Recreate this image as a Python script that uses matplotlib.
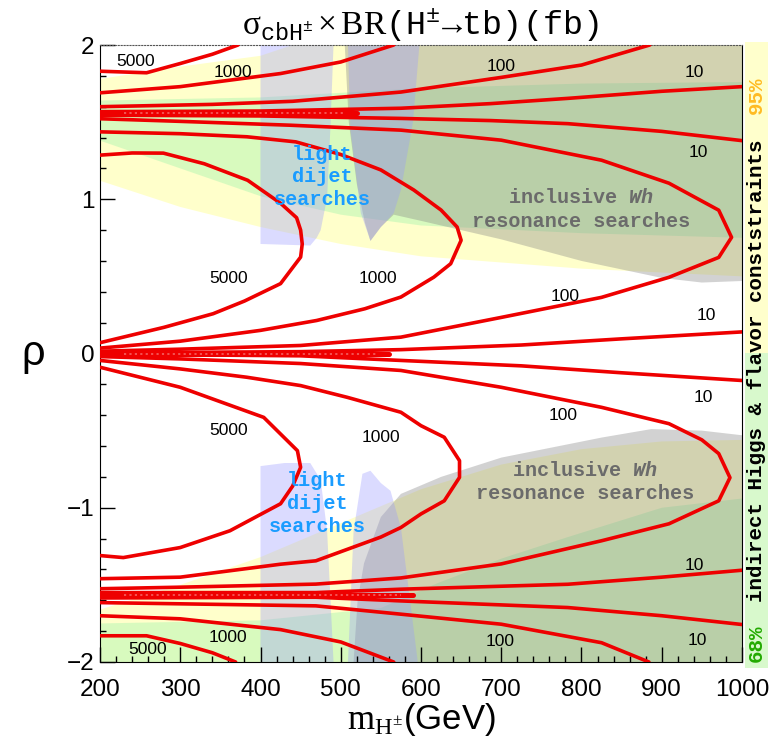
import numpy as np
import matplotlib.pyplot as plt

plt.rcParams['font.family'] = ['Liberation Sans', 'DejaVu Sans']
plt.rcParams['mathtext.fontset'] = 'custom'
plt.rcParams['mathtext.rm'] = 'Liberation Serif'
plt.rcParams['mathtext.tt'] = 'Liberation Mono'
plt.rcParams['mathtext.it'] = 'Liberation Mono:italic:bold'
plt.rcParams['mathtext.bf'] = 'Liberation Mono:bold'

# ---- contour lines of sigma x BR (fb) as (m_H, rho) ----
top_5000 = [(200, 1.83), (258, 1.82), (300, 1.88), (340, 1.94), (372, 2.0)]
top_1000 = [(200, 1.69), (300, 1.73), (425, 1.815), (500, 1.89), (566, 2.0)]
top_100 = [(200, 1.60), (340, 1.615), (440, 1.635), (575, 1.695), (700, 1.79), (800, 1.87), (885, 2.0)]
top_10 = [(200, 1.568), (400, 1.572), (575, 1.59), (687, 1.62), (783, 1.654), (900, 1.70), (1000, 1.73)]
top_10b = [(200, 1.545), (400, 1.54), (575, 1.524), (687, 1.51), (783, 1.49), (900, 1.44), (1000, 1.38)]

loop_100_up = [(200, 1.522), (300, 1.505), (437, 1.48), (575, 1.448), (700, 1.383), (825, 1.253),
               (909, 1.104), (971, 0.929), (987, 0.753), (971, 0.623), (909, 0.494), (825, 0.364),
               (700, 0.234), (575, 0.106), (450, 0.052), (300, 0.028), (200, 0.015)]
loop_1000_up = [(200, 1.437), (300, 1.425), (383, 1.405), (444, 1.372), (500, 1.29), (550, 1.19),
                (591, 1.06), (625, 0.93), (645, 0.82), (650, 0.734), (637, 0.582), (616, 0.495),
                (575, 0.366), (530, 0.29), (470, 0.214), (400, 0.15), (300, 0.08), (200, 0.035)]
loop_5000_up = [(200, 1.286), (240, 1.30), (279, 1.299), (330, 1.23), (384, 1.123), (425, 0.974),
                (445, 0.88), (450, 0.80), (452, 0.71), (450, 0.625), (425, 0.453), (380, 0.34),
                (341, 0.258), (280, 0.17), (200, 0.07)]

zero_10_up = [(200, 0.004), (450, 0.012), (575, 0.025), (725, 0.055), (850, 0.095), (1000, 0.14)]
zero_10_dn = [(200, -0.004), (450, -0.015), (575, -0.045), (725, -0.08), (850, -0.125), (1000, -0.175)]

loop_100_dn = [(200, -0.02), (300, -0.035), (450, -0.065), (575, -0.11), (700, -0.219), (825, -0.349),
               (909, -0.455), (950, -0.56), (971, -0.649), (985, -0.805), (971, -0.955), (909, -1.104),
               (825, -1.214), (700, -1.364), (575, -1.455), (469, -1.495), (300, -1.515), (200, -1.525)]
loop_1000_dn = [(200, -0.045), (300, -0.1), (383, -0.154), (450, -0.208), (508, -0.284), (575, -0.381),
                (600, -0.468), (629, -0.543), (648, -0.695), (648, -0.803), (629, -0.955), (600, -1.04),
                (575, -1.128), (550, -1.19), (469, -1.344), (425, -1.366), (300, -1.45), (200, -1.46)]
loop_5000_dn = [(200, -0.089), (300, -0.219), (404, -0.414), (446, -0.63), (450, -0.738), (440, -0.86),
                (425, -0.974), (362, -1.149), (300, -1.258), (229, -1.323), (200, -1.31)]

bot_10a = [(200, -1.55), (469, -1.55), (575, -1.528), (783, -1.496), (900, -1.45), (1000, -1.405)]
bot_10b = [(200, -1.585), (469, -1.58), (575, -1.604), (783, -1.647), (900, -1.70), (1000, -1.757)]
bot_100 = [(200, -1.615), (469, -1.636), (575, -1.69), (700, -1.755), (825, -1.875), (884, -2.0)]
bot_1000 = [(200, -1.70), (300, -1.72), (425, -1.79), (500, -1.87), (566, -2.0)]
bot_5000 = [(200, -1.83), (258, -1.83), (300, -1.88), (340, -1.94), (369, -2.0)]

# dense bundles where the rate goes to zero
zero_rho = [1.556, 0.0, -1.568]
zero_mend = [520, 560, 590]

# contour labels
lab_text = ['5000', '1000', '100', '10', '10', '5000', '1000', '100', '10',
            '10', '100', '5000', '1000', '10', '1000', '5000', '100', '10']
lab_m = [244, 366, 700, 941, 945, 360, 546, 779, 956,
         952, 777, 360, 550, 941, 359, 259, 698, 944]
lab_rho = [1.89, 1.82, 1.86, 1.82, 1.305, 0.487, 0.487, 0.37, 0.247,
           -0.286, -0.40, -0.50, -0.545, -1.377, -1.844, -1.92, -1.87, -1.86]

# ---- shaded regions ----
yel_up_top = [(200, 1.78), (300, 1.86), (400, 1.93), (440, 2.0), (1000, 2.0)]
yel_up_bot = [(200, 1.12), (300, 0.95), (400, 0.82), (500, 0.71), (600, 0.63), (800, 0.55), (1000, 0.5)]
grn_up_top = [(200, 1.64), (400, 1.66), (600, 1.72), (800, 1.75), (1000, 1.76)]
grn_up_bot = [(200, 1.38), (300, 1.2), (400, 1.02), (500, 0.9), (600, 0.83), (800, 0.78), (1000, 0.75)]
yel_dn_top = [(200, -1.66), (300, -1.5), (400, -1.32), (500, -1.1), (600, -0.88), (700, -0.72),
              (800, -0.62), (900, -0.57), (1000, -0.56)]
grn_dn_top = [(200, -1.75), (400, -1.73), (550, -1.65), (620, -1.49), (700, -1.33), (783, -1.19),
              (900, -1.0), (1000, -0.94)]

wh_up_bot = [(505, 2.0), (510, 1.5), (520, 1.1), (530, 0.85), (537, 0.73), (550, 0.82), (566, 0.90),
             (600, 0.86), (700, 0.74), (800, 0.60), (900, 0.49), (950, 0.46), (1000, 0.47)]
wh_dn_top = [(516, -2.0), (521, -1.6), (529, -1.36), (550, -1.06), (575, -0.91), (625, -0.8),
             (700, -0.675), (825, -0.545), (887, -0.49), (950, -0.5), (1000, -0.53)]

dij1_up = [(400, 2.0), (400, 0.71), (462, 0.70), (470, 0.75), (475, 0.8), (483, 1.01), (487, 1.45), (491, 2.0)]
dij2_up = [(509, 2.0), (512, 1.45), (525, 0.91), (537, 0.73), (550, 0.82), (566, 0.91), (575, 1.06),
           (590, 1.5), (598, 2.0)]
dij1_dn = [(400, -2.0), (400, -0.73), (430, -0.71), (462, -0.71), (475, -0.82), (483, -1.15), (491, -2.0)]
dij2_dn = [(509, -2.0), (516, -1.15), (527, -0.78), (537, -0.76), (550, -0.84), (562, -0.89),
           (575, -1.13), (596, -2.0)]


def xy(pts):
    a = np.array(pts, dtype=float)
    return a[:, 0], a[:, 1]


def band(top, bot):
    t = np.array(top, dtype=float)
    b = np.array(bot, dtype=float)[::-1]
    a = np.vstack([t, b])
    return a[:, 0], a[:, 1]


fig = plt.figure(figsize=(7.79, 7.43), dpi=100)
ax = fig.add_axes([100 / 779, 81 / 743, 642 / 779, 617 / 743])

# 95% / 68% indirect constraints
x, y = band(yel_up_top, yel_up_bot)
ax.fill(x, y, color='#ffff99', alpha=0.5, lw=0, zorder=1)
x, y = band(grn_up_top, grn_up_bot)
ax.fill(x, y, color='#66ee99', alpha=0.25, lw=0, zorder=1.1)
x, y = band(yel_dn_top, [(200, -2.0), (1000, -2.0)])
ax.fill(x, y, color='#ffff99', alpha=0.5, lw=0, zorder=1)
x, y = band(grn_dn_top, [(200, -2.0), (1000, -2.0)])
ax.fill(x, y, color='#66ee99', alpha=0.25, lw=0, zorder=1.1)

# inclusive Wh resonance searches
x, y = band([(1000, 2.0)], wh_up_bot[::-1])
ax.fill(x, y, color='#808080', alpha=0.35, lw=0, zorder=1.2)
x, y = band(wh_dn_top, [(516, -2.0), (1000, -2.0)])
ax.fill(x, y, color='#808080', alpha=0.35, lw=0, zorder=1.2)

# light dijet searches
for reg in [dij1_up, dij2_up, dij1_dn, dij2_dn]:
    x, y = xy(reg)
    ax.fill(x, y, color='#9999ff', alpha=0.35, lw=0, zorder=1.3)

# contour lines
red = '#ee0000'
for line in [top_5000, top_1000, top_100, top_10, top_10b,
             loop_100_up, loop_1000_up, loop_5000_up, zero_10_up, zero_10_dn,
             loop_100_dn, loop_1000_dn, loop_5000_dn,
             bot_10a, bot_10b, bot_100, bot_1000, bot_5000]:
    x, y = xy(line)
    ax.plot(x, y, color=red, lw=2.6, solid_capstyle='round', zorder=3)

# bundles of many close contours near the zeros
for r0, m1 in zip(zero_rho, zero_mend):
    ax.plot([200, m1], [r0, r0], color=red, lw=3.6, solid_capstyle='round', zorder=3)
    ax.plot([230, m1 - 15], [r0, r0], color='white', lw=1.3, ls=(0, (1.2, 1.8)),
            alpha=0.35, zorder=3.1)

for t, m, r in zip(lab_text, lab_m, lab_rho):
    ax.text(m, r, t, fontsize=12.5, ha='center', va='center', zorder=4)

# region labels
dij_kw = dict(fontsize=14.5, fontfamily='Liberation Mono', fontweight='bold', color='#1a9cff',
              ha='center', va='center', linespacing=1.25, zorder=4)
ax.text(477, 1.145, 'light\ndijet\nsearches', **dij_kw)
ax.text(471, -0.972, 'light\ndijet\nsearches', **dij_kw)
wh_kw = dict(fontsize=14.5, fontfamily='Liberation Mono', fontweight='bold', color='#6b6b6b',
             ha='center', va='center', linespacing=1.3, zorder=4)
ax.text(799, 0.935, 'inclusive $\\mathit{Wh}$\nresonance searches', **wh_kw)
ax.text(804, -0.834, 'inclusive $\\mathit{Wh}$\nresonance searches', **wh_kw)

ax.set_xlim(200, 1000)
ax.set_ylim(-2, 2)
ax.set_xticks([200, 300, 400, 500, 600, 700, 800, 900, 1000])
ax.set_xticks(np.arange(200, 1001, 20), minor=True)
ax.set_yticks([-2, -1, 0, 1, 2])
ax.set_yticklabels(['\u22122', '\u22121', '0', '1', '2'])
ax.set_yticks(np.arange(-2, 2.01, 0.2), minor=True)
ax.tick_params(which='both', direction='in', top=False, right=False, labelsize=17.5, width=1)
ax.tick_params(which='major', length=11)
ax.tick_params(which='minor', length=4)
ax.tick_params(axis='x', pad=12)
ax.tick_params(axis='y', pad=4)
ax.spines['top'].set_linestyle(':')
ax.spines['top'].set_linewidth(0.8)
ax.spines['top'].set_color('#555555')

ax.set_xlabel(r'$\mathrm{m}_{\mathrm{H}^{\pm}}$(GeV)', fontsize=25, labelpad=0)
ax.set_ylabel('\u03c1', fontsize=30, rotation=0, labelpad=24, va='center')

fig.text(0.54, 0.966, r'$\mathrm{σ}_{\mathtt{cbH^{\pm}}}\times\mathrm{BR}\mathtt{(H^{\pm}\!\rightarrow\!tb)(fb)}$',
         fontsize=24, ha='center', va='center')

# side strip for the indirect constraint legend
sax = fig.add_axes([745 / 779, 75 / 743, 23 / 779, 626 / 743])
sax.set_xlim(0, 1)
sax.set_ylim(0, 1)
sax.axhspan(0.503, 1, color='#ffffcc', lw=0)
sax.axhspan(0, 0.503, color='#d8f9cc', lw=0)
sax.axis('off')
side_kw = dict(fontsize=15, fontfamily='Liberation Mono', fontweight='bold', rotation=90,
               ha='center', va='center')
sax.text(0.5, 0.04, '68%', color='#22aa00', **side_kw)
sax.text(0.5, 0.475, 'indirect Higgs & flavor conststraints', color='black', **side_kw)
sax.text(0.5, 0.915, '95%', color='#ffbb22', **side_kw)

fig.savefig('out.png', dpi=100)
